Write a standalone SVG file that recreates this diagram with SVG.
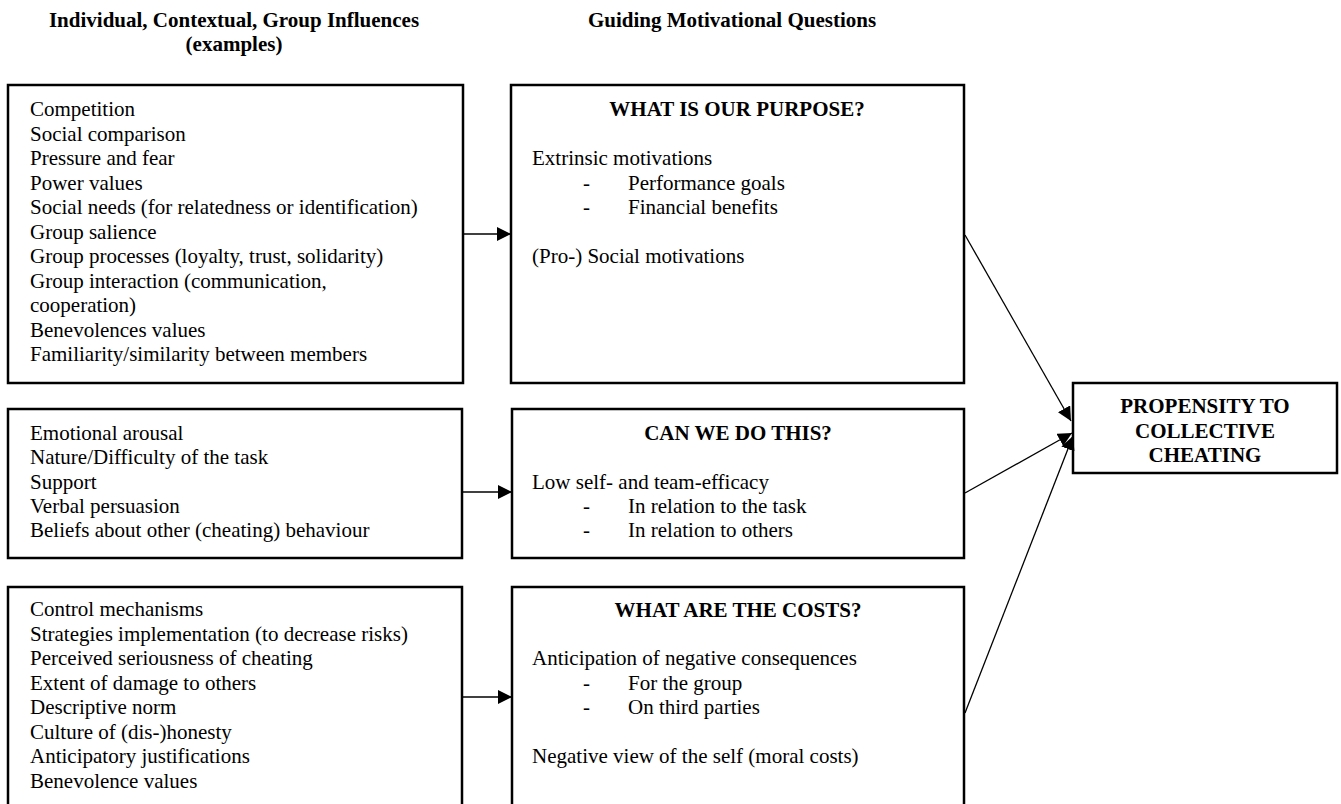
<svg xmlns="http://www.w3.org/2000/svg" width="1341" height="804" viewBox="0 0 1341 804">
<style>
.box{fill:#fff;stroke:#000;stroke-width:2.5}
.t{font-family:"Liberation Serif","Times New Roman",serif;font-size:21px;fill:#000}
.b{font-family:"Liberation Serif","Times New Roman",serif;font-size:21px;font-weight:bold;fill:#000}
.c{text-anchor:middle}
.ln{stroke:#000;stroke-width:1.3;fill:none}
</style>
<defs>
<marker id="ah" viewBox="0 0 14 14" refX="14" refY="7" markerWidth="14" markerHeight="14" markerUnits="userSpaceOnUse" orient="auto">
<path d="M0,0 L14,7 L0,14 z" fill="#000"/>
</marker>
</defs>
<rect width="1341" height="804" fill="#fff"/>
<g id="headers">
<text class="b c" x="234" y="27">Individual, Contextual, Group Influences</text>
<text class="b c" x="234" y="51">(examples)</text>
<text class="b c" x="732" y="27">Guiding Motivational Questions</text>
</g>
<g id="influences-1">
<rect class="box" x="8" y="85" width="455" height="298"/>
<text class="t"><tspan x="30" y="116">Competition</tspan><tspan x="30" y="140.5">Social comparison</tspan><tspan x="30" y="165">Pressure and fear</tspan><tspan x="30" y="189.5">Power values</tspan><tspan x="30" y="214">Social needs (for relatedness or identification)</tspan><tspan x="30" y="238.5">Group salience</tspan><tspan x="30" y="263">Group processes (loyalty, trust, solidarity)</tspan><tspan x="30" y="287.5">Group interaction (communication,</tspan><tspan x="30" y="312">cooperation)</tspan><tspan x="30" y="336.5">Benevolences values</tspan><tspan x="30" y="361">Familiarity/similarity between members</tspan></text>
</g>
<g id="purpose">
<rect class="box" x="511" y="85" width="453" height="298"/>
<text class="b c" x="737" y="116">WHAT IS OUR PURPOSE?</text>
<text class="t" x="532" y="165">Extrinsic motivations</text>
<text class="t" x="583" y="189.5">-</text><text class="t" x="628" y="189.5">Performance goals</text>
<text class="t" x="583" y="214">-</text><text class="t" x="628" y="214">Financial benefits</text>
<text class="t" x="532" y="263">(Pro-) Social motivations</text>
</g>
<g id="influences-2">
<rect class="box" x="8" y="409" width="454" height="149"/>
<text class="t"><tspan x="30" y="440">Emotional arousal</tspan><tspan x="30" y="464.3">Nature/Difficulty of the task</tspan><tspan x="30" y="488.6">Support</tspan><tspan x="30" y="512.9">Verbal persuasion</tspan><tspan x="30" y="537.2">Beliefs about other (cheating) behaviour</tspan></text>
</g>
<g id="efficacy">
<rect class="box" x="512" y="409" width="452" height="149"/>
<text class="b c" x="738" y="440">CAN WE DO THIS?</text>
<text class="t" x="532" y="488.6">Low self- and team-efficacy</text>
<text class="t" x="583" y="512.9">-</text><text class="t" x="628" y="512.9">In relation to the task</text>
<text class="t" x="583" y="537.2">-</text><text class="t" x="628" y="537.2">In relation to others</text>
</g>
<g id="influences-3">
<rect class="box" x="8" y="587" width="454" height="230"/>
<text class="t"><tspan x="30" y="616">Control mechanisms</tspan><tspan x="30" y="640.5">Strategies implementation (to decrease risks)</tspan><tspan x="30" y="665">Perceived seriousness of cheating</tspan><tspan x="30" y="689.5">Extent of damage to others</tspan><tspan x="30" y="714">Descriptive norm</tspan><tspan x="30" y="738.5">Culture of (dis-)honesty</tspan><tspan x="30" y="763">Anticipatory justifications</tspan><tspan x="30" y="787.5">Benevolence values</tspan></text>
</g>
<g id="costs">
<rect class="box" x="512" y="587" width="452" height="230"/>
<text class="b c" x="738" y="617">WHAT ARE THE COSTS?</text>
<text class="t" x="532" y="665">Anticipation of negative consequences</text>
<text class="t" x="583" y="689.5">-</text><text class="t" x="628" y="689.5">For the group</text>
<text class="t" x="583" y="714">-</text><text class="t" x="628" y="714">On third parties</text>
<text class="t" x="532" y="763">Negative view of the self (moral costs)</text>
</g>
<g id="outcome">
<rect class="box" x="1073" y="383" width="264" height="90"/>
<text class="b c" x="1205" y="413">PROPENSITY TO</text>
<text class="b c" x="1205" y="438">COLLECTIVE</text>
<text class="b c" x="1205" y="462">CHEATING</text>
</g>
<g id="connectors">
<line class="ln" x1="463" y1="234" x2="511" y2="234" marker-end="url(#ah)"/>
<line class="ln" x1="462" y1="492" x2="512" y2="492" marker-end="url(#ah)"/>
<line class="ln" x1="462" y1="697" x2="512" y2="697" marker-end="url(#ah)"/>
<line class="ln" x1="965" y1="235" x2="1071" y2="421" marker-end="url(#ah)"/>
<line class="ln" x1="965" y1="493" x2="1072" y2="433" marker-end="url(#ah)"/>
<line class="ln" x1="965" y1="713" x2="1073" y2="436" marker-end="url(#ah)"/>
</g>
</svg>
